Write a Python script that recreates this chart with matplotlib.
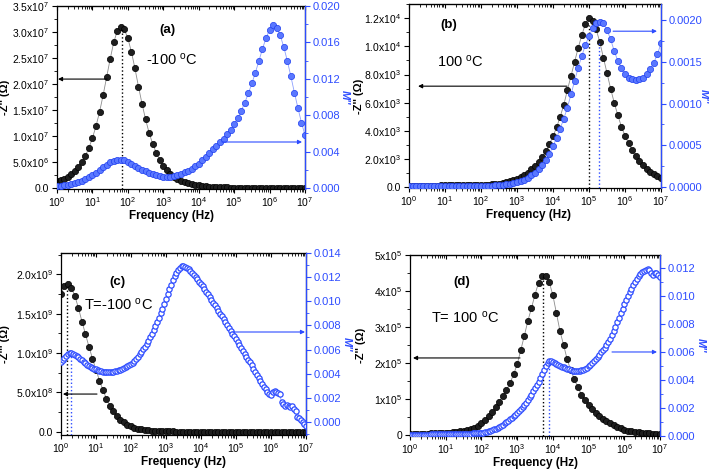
import numpy as np
import matplotlib
matplotlib.use("Agg")
import matplotlib.pyplot as plt
from matplotlib.ticker import LogLocator, NullFormatter, AutoMinorLocator

# ---- data (10 pts/decade for -Z'', 10 or 20 pts/decade for M'') ----
# (a) -100 C, -Z'' in 1e7 ohm, M'' in 1e-3
a_z = [0.13, 0.15, 0.18, 0.22, 0.27, 0.33, 0.41, 0.50, 0.62, 0.77,
       0.96, 1.19, 1.46, 1.78, 2.13, 2.48, 2.80, 3.02, 3.10, 3.05,
       2.88, 2.62, 2.30, 1.95, 1.62, 1.32, 1.06, 0.85, 0.68, 0.54,
       0.43, 0.34, 0.27, 0.21, 0.17, 0.14, 0.11, 0.09, 0.075, 0.06,
       0.05, 0.04, 0.033, 0.027, 0.022, 0.018, 0.015, 0.012, 0.010, 0.008,
       0.007, 0.006, 0.005, 0.005, 0.004, 0.004, 0.003, 0.003, 0.003, 0.002,
       0.002, 0.002, 0.002, 0.002, 0.001, 0.001, 0.001, 0.001, 0.001, 0.001,
       0.001]
a_m = [0.22, 0.26, 0.30, 0.36, 0.43, 0.52, 0.64, 0.78, 0.96, 1.17,
       1.42, 1.70, 2.00, 2.30, 2.58, 2.82, 3.00, 3.10, 3.12, 3.05,
       2.90, 2.70, 2.48, 2.25, 2.03, 1.83, 1.66, 1.52, 1.40, 1.31,
       1.25, 1.22, 1.25, 1.32, 1.42, 1.55, 1.72, 1.92, 2.15, 2.40,
       2.70, 3.05, 3.45, 3.85, 4.25, 4.65, 5.05, 5.45, 5.90, 6.40,
       7.00, 7.70, 8.50, 9.40, 10.4, 11.5, 12.7, 14.0, 15.3, 16.5,
       17.4, 17.9, 17.6, 16.8, 15.5, 14.0, 12.3, 10.5, 8.8, 7.2,
       5.8]

# (b) 100 C, -Z'' in 1e3 ohm, M'' in 1e-3
b_z = [0.10, 0.10, 0.10, 0.10, 0.10, 0.10, 0.10, 0.10, 0.10, 0.11,
       0.11, 0.11, 0.11, 0.11, 0.12, 0.12, 0.12, 0.13, 0.13, 0.14,
       0.15, 0.16, 0.17, 0.19, 0.21, 0.24, 0.28, 0.33, 0.40, 0.48,
       0.58, 0.70, 0.85, 1.03, 1.25, 1.50, 1.80, 2.15, 2.55, 3.05,
       3.60, 4.25, 5.00, 5.85, 6.90, 7.90, 8.90, 9.90, 10.8, 11.6,
       12.0, 11.8, 11.2, 10.3, 9.2, 8.1, 7.0, 6.0, 5.1, 4.3,
       3.65, 3.10, 2.60, 2.20, 1.85, 1.55, 1.30, 1.10, 0.92, 0.78,
       0.66]
b_m = [0.010, 0.010, 0.010, 0.010, 0.010, 0.010, 0.010, 0.010, 0.010, 0.010,
       0.010, 0.010, 0.010, 0.010, 0.010, 0.010, 0.010, 0.010, 0.010, 0.010,
       0.010, 0.012, 0.014, 0.016, 0.019, 0.022, 0.026, 0.031, 0.038, 0.047,
       0.058, 0.072, 0.090, 0.110, 0.140, 0.170, 0.210, 0.260, 0.320, 0.400,
       0.490, 0.590, 0.700, 0.820, 0.950, 1.110, 1.270, 1.430, 1.570, 1.700,
       1.810, 1.900, 1.960, 1.980, 1.960, 1.880, 1.770, 1.630, 1.510, 1.420,
       1.350, 1.310, 1.290, 1.280, 1.290, 1.310, 1.350, 1.410, 1.490, 1.590,
       1.720]

# (c) T=-100 C, -Z'' in 1e9 ohm, M'' in 1e-3 (20 pts/decade)
c_z = [1.75, 1.85, 1.88, 1.83, 1.72, 1.57, 1.40, 1.24, 1.08, 0.93,
       0.79, 0.65, 0.53, 0.42, 0.33, 0.26, 0.20, 0.15, 0.12, 0.09,
       0.070, 0.055, 0.042, 0.033, 0.026, 0.020, 0.016, 0.013, 0.010, 0.008,
       0.007, 0.006, 0.005, 0.004, 0.004, 0.003, 0.003, 0.003, 0.002, 0.002,
       0.002, 0.002, 0.002, 0.002, 0.001, 0.001, 0.001, 0.001, 0.001, 0.001,
       0.001, 0.001, 0.001, 0.001, 0.001, 0.001, 0.001, 0.001, 0.001, 0.001,
       0.001, 0.001, 0.001, 0.001, 0.001, 0.001, 0.001, 0.001, 0.001, 0.001,
       0.001]
c_m = [5.00, 5.15, 5.30, 5.45, 5.60, 5.68, 5.70, 5.65, 5.55, 5.45,
       5.35, 5.22, 5.10, 4.98, 4.85, 4.75, 4.64, 4.54, 4.46, 4.40,
       4.35, 4.30, 4.25, 4.21, 4.18, 4.16, 4.15, 4.14, 4.15, 4.16,
       4.18, 4.20, 4.24, 4.28, 4.33, 4.39, 4.45, 4.52, 4.60, 4.69,
       4.78, 4.90, 5.05, 5.22, 5.40, 5.60, 5.80, 6.02, 6.25, 6.50,
       6.75, 7.02, 7.30, 7.62, 7.95, 8.30, 8.65, 9.02, 9.40, 9.80,
       10.20, 10.60, 11.00, 11.38, 11.75, 12.07, 12.35, 12.60, 12.80, 12.90,
       12.92, 12.86, 12.78, 12.66, 12.52, 12.36, 12.19, 12.01, 11.82, 11.63,
       11.44, 11.24, 11.03, 10.81, 10.59, 10.36, 10.13, 9.90, 9.67, 9.44,
       9.21, 8.98, 8.75, 8.52, 8.28, 8.05, 7.81, 7.57, 7.33, 7.09,
       6.85, 6.61, 6.37, 6.13, 5.89, 5.65, 5.41, 5.17, 4.93, 4.68,
       4.43, 4.18, 3.93, 3.68, 3.42, 3.16, 2.90, 2.70, 2.50, 2.35,
       2.25, 2.45, 2.55, 2.45, 2.40, 2.30, 1.65, 1.50, 1.35, 1.40,
       1.30, 1.20, 1.30, 1.05, 0.90, 0.45, 0.30, 0.15, 0.00, -0.15,
       -0.30]

# (d) T=100 C, -Z'' in 1e5 ohm, M'' in 1e-3 (20 pts/decade)
d_z = [0.02, 0.02, 0.025, 0.03, 0.03, 0.035, 0.04, 0.045, 0.05, 0.055,
       0.06, 0.065, 0.075, 0.085, 0.095, 0.11, 0.13, 0.16, 0.20, 0.26,
       0.33, 0.42, 0.52, 0.64, 0.77, 0.92, 1.08, 1.24, 1.44, 1.68,
       1.96, 2.35, 2.75, 3.17, 3.52, 3.90, 4.23, 4.42, 4.42, 4.24,
       3.88, 3.38, 2.88, 2.50, 2.10, 1.80, 1.55, 1.32, 1.12, 0.96,
       0.83, 0.72, 0.62, 0.52, 0.45, 0.38, 0.32, 0.27, 0.22, 0.18,
       0.15, 0.12, 0.10, 0.085, 0.07, 0.06, 0.05, 0.04, 0.035, 0.03,
       0.025]
d_m = [0.08, 0.08, 0.08, 0.09, 0.09, 0.09, 0.09, 0.10, 0.10, 0.10,
       0.10, 0.10, 0.11, 0.11, 0.11, 0.11, 0.12, 0.12, 0.12, 0.12,
       0.13, 0.13, 0.13, 0.13, 0.14, 0.14, 0.14, 0.15, 0.15, 0.15,
       0.15, 0.16, 0.16, 0.17, 0.17, 0.18, 0.18, 0.19, 0.19, 0.21,
       0.22, 0.24, 0.27, 0.30, 0.34, 0.38, 0.42, 0.47, 0.52, 0.58,
       0.65, 0.72, 0.80, 0.89, 0.98, 1.08, 1.18, 1.29, 1.40, 1.52,
       1.64, 1.78, 1.92, 2.07, 2.22, 2.38, 2.55, 2.75, 2.95, 3.17,
       3.40, 3.60, 3.82, 4.10, 4.40, 4.70, 4.98, 5.20, 5.35, 5.33,
       5.28, 5.20, 5.10, 5.03, 4.98, 4.93, 4.89, 4.85, 4.80, 4.75,
       4.70, 4.66, 4.62, 4.60, 4.60, 4.63, 4.68, 4.72, 4.78, 4.86,
       4.96, 5.08, 5.20, 5.34, 5.48, 5.62, 5.78, 5.95, 6.12, 6.30,
       6.50, 6.70, 6.92, 7.20, 7.50, 7.80, 8.10, 8.42, 8.75, 9.08,
       9.40, 9.70, 9.98, 10.25, 10.50, 10.75, 11.00, 11.20, 11.38, 11.52,
       11.65, 11.76, 11.85, 11.90, 11.82, 11.62, 11.50, 11.58, 11.60, 11.45,
       11.30]

BLUE = "#2d4cff"
plt.rcParams["font.family"] = ["Liberation Sans", "DejaVu Sans"]
plt.rcParams["mathtext.default"] = "regular"
plt.rcParams["font.size"] = 8


def sci(v, p):
    return r"%sx10$^{%d}$" % (v, p)


def panel(rect, z, zs, m, ms, zlim, zticks, zlabels, mlim, mticks, mlabels,
          hollow, tag, tag_xy, temp, temp_xy, karrow, barrow,
          kdot, bdot, ylab_x, mlab_x, xlab_x, xlab_y, ylab):
    ax = fig.add_axes(rect)
    fz = np.logspace(0, 7, len(z))
    fm = np.logspace(0, 7, len(m))
    zv = np.array(z) * zs
    mv = np.array(m) * ms
    ax.plot(fz, zv, "-", color="#8c8c8c", lw=0.6, zorder=1)
    ax.plot(fz, zv, "o", ms=4.5, mfc="#1e1e1e", mec="black", mew=0.5, zorder=2)
    ax.plot(kdot[0:2], [zlim[0], kdot[2]], ":", color="black", lw=1.0, zorder=3)
    ax.set_xscale("log")
    ax.set_xlim(1, 1e7)
    ax.xaxis.set_major_locator(LogLocator(base=10, numticks=20))
    ax.xaxis.set_minor_locator(LogLocator(base=10, subs=np.arange(2, 10), numticks=20))
    ax.xaxis.set_minor_formatter(NullFormatter())
    ax.set_ylim(*zlim)
    ax.set_yticks(zticks)
    ax.set_yticklabels(zlabels)
    ax.yaxis.set_minor_locator(AutoMinorLocator(2))
    ax.tick_params(which="major", length=3.5, width=0.8, labelsize=7.5, pad=2)
    ax.tick_params(axis="x", which="major", length=3, labelsize=7.5, pad=1.5)
    ax.tick_params(which="minor", length=2, width=0.6)
    for s in ax.spines.values():
        s.set_linewidth(0.9)
    ax.set_xlabel("Frequency (Hz)", fontsize=8.5, fontweight="bold")
    ax.xaxis.set_label_coords(xlab_x, xlab_y)
    ax.set_ylabel(ylab, fontsize=8, fontweight="bold")
    ax.yaxis.set_label_coords(ylab_x, 0.5)
    top = ax.secondary_xaxis("top")
    top.xaxis.set_major_locator(LogLocator(base=10, numticks=20))
    top.xaxis.set_minor_locator(LogLocator(base=10, subs=np.arange(2, 10), numticks=20))
    top.xaxis.set_minor_formatter(NullFormatter())
    top.tick_params(which="major", direction="in", length=3, width=0.8, labeltop=False)
    top.tick_params(which="minor", direction="in", length=1.8, width=0.6)

    ax2 = ax.twinx()
    ax2.plot(fm, mv, "-", color="#8da0ff", lw=0.6, zorder=1)
    if hollow:
        ax2.plot(fm, mv, "o", ms=3.8, mfc="white", mec=BLUE, mew=0.9, zorder=2)
    else:
        ax2.plot(fm, mv, "o", ms=4.5, mfc="#5a78ff", mec="#1f3ff0", mew=0.5, zorder=2)
    if bdot is not None:
        ax2.plot(bdot[0:2], [mlim[0], bdot[2]], ":", color=BLUE, lw=1.0, zorder=3)
    ax2.set_xlim(1, 1e7)
    ax2.set_ylim(*mlim)
    ax2.set_yticks(mticks)
    ax2.set_yticklabels(mlabels)
    ax2.yaxis.set_minor_locator(AutoMinorLocator(2))
    ax2.tick_params(axis="y", which="major", length=3.5, width=0.8, colors=BLUE,
                    labelsize=8, pad=2)
    ax2.tick_params(axis="y", which="minor", length=2, width=0.6, colors=BLUE)
    ax2.spines["right"].set_color(BLUE)
    ax2.spines["right"].set_linewidth(0.9)
    ax2.spines["left"].set_visible(False)
    ax2.spines["top"].set_visible(False)
    ax2.spines["bottom"].set_visible(False)
    ax2.set_ylabel("M''", rotation=270, color=BLUE, fontsize=8,
                   fontweight="bold", fontstyle="italic", va="center")
    ax2.yaxis.set_label_coords(mlab_x, 0.5)

    ax2.text(tag_xy[0], tag_xy[1], tag, transform=ax.transAxes, fontsize=9.5,
             fontweight="bold", ha="center", va="center")
    ax2.text(temp_xy[0], temp_xy[1], temp, transform=ax.transAxes, fontsize=10.5,
             ha="center", va="center")
    ax2.annotate("", xy=(karrow[1], karrow[2]), xytext=(karrow[0], karrow[2]),
                 xycoords=ax.transAxes, textcoords=ax.transAxes,
                 arrowprops=dict(arrowstyle="-|>", color="black", lw=0.8,
                                 mutation_scale=6, shrinkA=0, shrinkB=0))
    ax2.annotate("", xy=(barrow[1], barrow[2]), xytext=(barrow[0], barrow[2]),
                 xycoords=ax.transAxes, textcoords=ax.transAxes,
                 arrowprops=dict(arrowstyle="-|>", color=BLUE, lw=0.8,
                                 mutation_scale=6, shrinkA=0, shrinkB=0))
    return ax, ax2


fig = plt.figure(figsize=(7.09, 4.69), dpi=100)

panel([0.0804, 0.597, 0.3498, 0.390], a_z, 1e7, a_m, 1e-3,
      (-0.02e7, 3.5e7), [0, 0.5e7, 1.0e7, 1.5e7, 2.0e7, 2.5e7, 3.0e7, 3.5e7],
      ["0.0", sci("5.0", 6), sci("1.0", 7), sci("1.5", 7), sci("2.0", 7),
       sci("2.5", 7), sci("3.0", 7), sci("3.5", 7)],
      (-0.0001, 0.020), [0, 0.004, 0.008, 0.012, 0.016, 0.020],
      ["0.000", "0.004", "0.008", "0.012", "0.016", "0.020"],
      False, "(a)", (0.444, 0.869), r"-100 $^{o}$C", (0.464, 0.71),
      (0.202, 0.004, 0.601), (0.665, 0.988, 0.257),
      (69, 69, 3.05e7), None, -0.19, 1.16, 0.46, -0.115, "-Z'' (Ω)")

panel([0.5769, 0.5991, 0.3554, 0.392], b_z, 1e3, b_m, 1e-3,
      (-70, 13000), [0, 2000, 4000, 6000, 8000, 10000, 12000],
      ["0.0", sci("2.0", 3), sci("4.0", 3), sci("6.0", 3), sci("8.0", 3),
       sci("1.0", 4), sci("1.2", 4)],
      (-0.000012, 0.00219), [0, 0.0005, 0.0010, 0.0015, 0.0020],
      ["0.0000", "0.0005", "0.0010", "0.0015", "0.0020"],
      False, "(b)", (0.159, 0.886), r"100 $^{o}$C", (0.202, 0.685),
      (0.627, 0.036, 0.554), (0.81, 0.984, 0.853),
      (1.0e5, 1.0e5, 11500), (1.9e5, 1.9e5, 0.00175), -0.18, 1.17, 0.476,
      -0.115, "-Z'' (Ω)")

panel([0.086, 0.0725, 0.3456, 0.388], c_z, 1e9, c_m, 1e-3,
      (-0.04e9, 2.27e9), [0, 0.5e9, 1.0e9, 1.5e9, 2.0e9],
      ["0.0", sci("5.0", 8), sci("1.0", 9), sci("1.5", 9), sci("2.0", 9)],
      (-0.00108, 0.014), [0, 0.002, 0.004, 0.006, 0.008, 0.010, 0.012, 0.014],
      ["0.000", "0.002", "0.004", "0.006", "0.008", "0.010", "0.012", "0.014"],
      True, "(c)", (0.229, 0.84), r"T=-100 $^{o}$C", (0.235, 0.714),
      (0.147, 0.008, 0.225), (0.702, 0.996, 0.566),
      (1.48, 1.48, 1.88e9), (1.9, 1.9, 0.0057), -0.208, 1.168, 0.5, -0.115,
      "-Z''' (Ω)")

panel([0.5783, 0.0704, 0.3526, 0.386], d_z, 1e5, d_m, 1e-3,
      (-0.03e5, 5e5), [0, 1e5, 2e5, 3e5, 4e5, 5e5],
      ["0", sci("1", 5), sci("2", 5), sci("3", 5), sci("4", 5), sci("5", 5)],
      (0, 0.0129), [0, 0.002, 0.004, 0.006, 0.008, 0.010, 0.012],
      ["0.000", "0.002", "0.004", "0.006", "0.008", "0.010", "0.012"],
      True, "(d)", (0.208, 0.85), r"T= 100 $^{o}$C", (0.22, 0.652),
      (0.44, 0.012, 0.431), (0.808, 0.988, 0.464),
      (5.3e3, 5.3e3, 4.42e5), (7.9e3, 7.9e3, 0.00535), -0.178, 1.165, 0.5, -0.115,
      "-Z'' (Ω)")

fig.savefig("out.png", dpi=100)
